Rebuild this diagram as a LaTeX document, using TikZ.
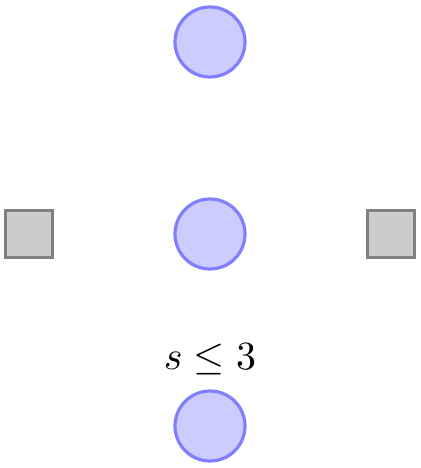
\documentclass[tikz,border=0pt]{standalone}
\begin{document}
\begin{tikzpicture}[
    place/.style={circle,draw=blue!50,fill=blue!20,thick,minimum size=6.15mm},
    transition/.style={rectangle,draw=black!50,fill=black!20,thick,minimum size=4.15mm}]
\def\dy{48pt}
\def\dx{45.25pt}
    %Borde
    \useasboundingbox (-52.5pt,-58.5pt) rectangle (52.5pt,58.5pt);

    %Lugares
    \node[place] (waiting) at (0,\dy) {};
    \node[place] (critical) at (0,0) {};
    \node[place,label=above:$s\le 3$] (semaphore) at (0,-\dy) {};

    %Transiciones
    \node[transition] (enter) at (-\dx,0) {};
    \node[transition] (leave) at (\dx,0) {};
\end{tikzpicture}
\end{document}
